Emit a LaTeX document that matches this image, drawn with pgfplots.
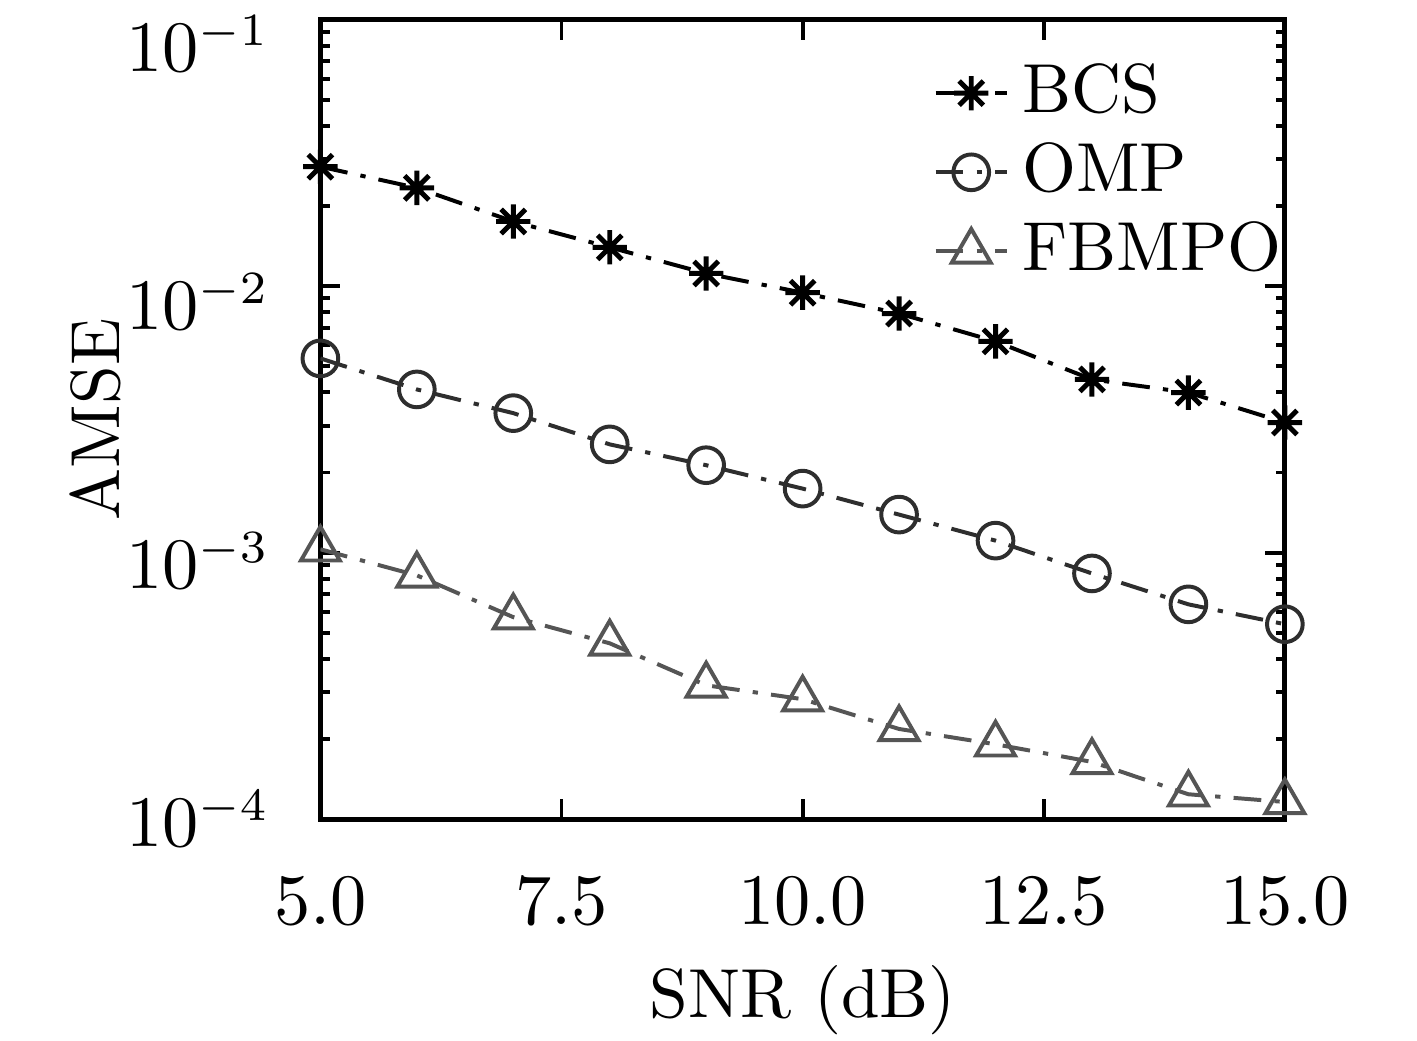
\documentclass[border=0pt]{standalone}
\usepackage{pgfplots}
\pgfplotsset{compat=1.18}
\definecolor{ompc}{HTML}{2E2E2E}
\definecolor{fbc}{HTML}{555555}
\pgfdeclareplotmark{ast8}{%
  \pgfpathmoveto{\pgfqpoint{0pt}{\pgfplotmarksize}}%
  \pgfpathlineto{\pgfqpoint{0pt}{-\pgfplotmarksize}}%
  \pgfpathmoveto{\pgfqpoint{\pgfplotmarksize}{0pt}}%
  \pgfpathlineto{\pgfqpoint{-\pgfplotmarksize}{0pt}}%
  \pgfpathmoveto{\pgfqpoint{0.707\pgfplotmarksize}{0.707\pgfplotmarksize}}%
  \pgfpathlineto{\pgfqpoint{-0.707\pgfplotmarksize}{-0.707\pgfplotmarksize}}%
  \pgfpathmoveto{\pgfqpoint{-0.707\pgfplotmarksize}{0.707\pgfplotmarksize}}%
  \pgfpathlineto{\pgfqpoint{0.707\pgfplotmarksize}{-0.707\pgfplotmarksize}}%
  \pgfusepathqstroke}
\begin{document}
\fontsize{10.5pt}{12.6pt}\selectfont
\begin{tikzpicture}
\path[use as bounding box] (-48.5pt,-33.5pt) rectangle (166pt,124pt);
\begin{axis}[
  at={(0,0)}, anchor=south west,
  scale only axis,
  width=146pt, height=121pt,
  xmin=5, xmax=15,
  ymode=log, ymin=1e-4, ymax=1e-1,
  xtick={5,7.5,10,12.5,15},
  xticklabel style={/pgf/number format/fixed, /pgf/number format/fixed zerofill, /pgf/number format/precision=1, yshift=-5.2pt},
  yticklabel style={inner ysep=0pt, xshift=-4pt, yshift={1.25pt-1.2pt*\ticknum}},
  tick align=inside,
  major tick length=3pt,
  minor tick length=1.4pt,
  axis line style={line width=0.75pt},
  every tick/.style={black, line width=0.6pt},
  xlabel={SNR (dB)},
  ylabel={AMSE},
  every axis x label/.style={at={(axis description cs:0.5,-0.226)}, anchor=center},
  every axis y label/.style={at={(axis description cs:-0.233,0.5)}, rotate=90, anchor=center},
  legend style={draw=none, fill=none, at={(1.032,0.98)}, anchor=north east,
    row sep=-1pt},
  legend cell align=left,
  legend image code/.code={
    \draw[mark repeat=2,mark phase=2,#1] plot coordinates {(0cm,0cm) (0.19cm,0cm) (0.38cm,0cm)};
  },
  every axis plot/.append style={line width=0.6pt,
    dash pattern=on 4.2pt off 2pt on 0.8pt off 2pt},
]
\addplot[black, mark=ast8, mark size=2.6pt, mark options={solid, line width=0.75pt}]
coordinates {
(5,0.0281) (6,0.0234) (7,0.0175) (8,0.0140) (9,0.01117) (10,0.00946)
(11,0.00790) (12,0.00621) (13,0.00447) (14,0.00399) (15,0.00308)
};
\addlegendentry{BCS}
\addplot[ompc, mark=o, mark size=2.7pt, mark options={solid, line width=0.6pt}]
coordinates {
(5,0.00536) (6,0.00410) (7,0.00334) (8,0.00255) (9,0.00213) (10,0.00174)
(11,0.00139) (12,0.00111) (13,0.000836) (14,0.000640) (15,0.000539)
};
\addlegendentry{OMP}
\addplot[fbc, mark=triangle, mark size=3.4pt, mark options={solid, line width=0.6pt}]
coordinates {
(5,0.00103) (6,0.000822) (7,0.000573) (8,0.000457) (9,0.000318) (10,0.000282)
(11,0.000218) (12,0.000191) (13,0.000164) (14,0.000124) (15,0.000116)
};
\addlegendentry{FBMPO}
\end{axis}
\end{tikzpicture}
\end{document}
